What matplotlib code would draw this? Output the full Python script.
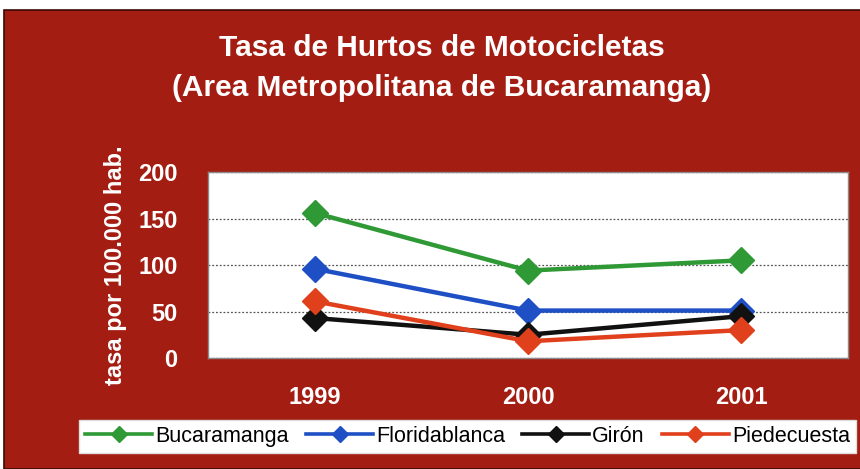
import matplotlib
matplotlib.use("Agg")
import matplotlib.pyplot as plt
from matplotlib.patches import Rectangle

plt.rcParams["font.family"] = ["Liberation Sans", "DejaVu Sans"]

# data
years = ["1999", "2000", "2001"]
bucaramanga = [156, 94, 105]
floridablanca = [96, 51, 51]
giron = [43, 25, 45]
piedecuesta = [61, 18, 30]
series_names = ["Bucaramanga", "Floridablanca", "Girón", "Piedecuesta"]
series_colors = ["#2f9a35", "#1e4fc4", "#111111", "#e0401c"]
yticks = [0, 50, 100, 150, 200]

BG = "#a31d12"

fig = plt.figure(figsize=(8.6, 4.69), dpi=100)
fig.patch.set_facecolor("white")
# red card behind everything (white strip on top / left like the scan)
fig.patches.append(Rectangle((4 / 860, 0), 1, 459 / 469, transform=fig.transFigure,
                             facecolor=BG, edgecolor="#3a0a06", lw=1.2, zorder=-1))

ax = fig.add_axes([208 / 860, 111 / 469, 640 / 860, 186 / 469])
ax.set_facecolor("white")

x = range(len(years))
for vals, name, col in zip([bucaramanga, floridablanca, giron, piedecuesta],
                           series_names, series_colors):
    ax.plot(x, vals, color=col, lw=3.2, marker="D", ms=13, label=name,
            markeredgecolor=col, zorder=3)

ax.set_xlim(-0.5, 2.5)
ax.set_ylim(0, 200)
ax.set_yticks(yticks)
ax.set_xticks(list(x))
ax.set_xticklabels(years)
ax.grid(axis="y", color="#555555", ls=(0, (1.5, 1.5)), lw=0.9)
ax.tick_params(axis="both", length=0, colors="white", labelsize=17)
ax.tick_params(axis="y", pad=22)
ax.tick_params(axis="x", pad=20)
for lab in ax.get_xticklabels() + ax.get_yticklabels():
    lab.set_fontweight("bold")
for s in ax.spines.values():
    s.set_color("#8a8a8a")
    s.set_linewidth(1)

ax.set_ylabel("tasa por 100.000 hab.", color="white", fontsize=17,
              fontweight="bold", labelpad=8)

fig.text(0.514, 0.897, "Tasa de Hurtos de Motocicletas", color="white",
         fontsize=21.5, fontweight="bold", ha="center", va="center")
fig.text(0.514, 0.812, "(Area Metropolitana de Bucaramanga)", color="white",
         fontsize=21.5, fontweight="bold", ha="center", va="center")

leg = fig.legend(loc="center left", bbox_to_anchor=(79 / 860, 1 - 436.5 / 469), ncol=4,
                 fontsize=15.5, frameon=True, fancybox=False, framealpha=1,
                 handlelength=3.1, handletextpad=0.15, columnspacing=0.8,
                 borderpad=0.3, borderaxespad=0, markerscale=0.65)
leg.get_frame().set_edgecolor("#dddddd")
leg.get_frame().set_linewidth(1)
for h in leg.legend_handles:
    h.set_linewidth(2.6)

fig.savefig("out.png", dpi=100, facecolor=fig.get_facecolor())
